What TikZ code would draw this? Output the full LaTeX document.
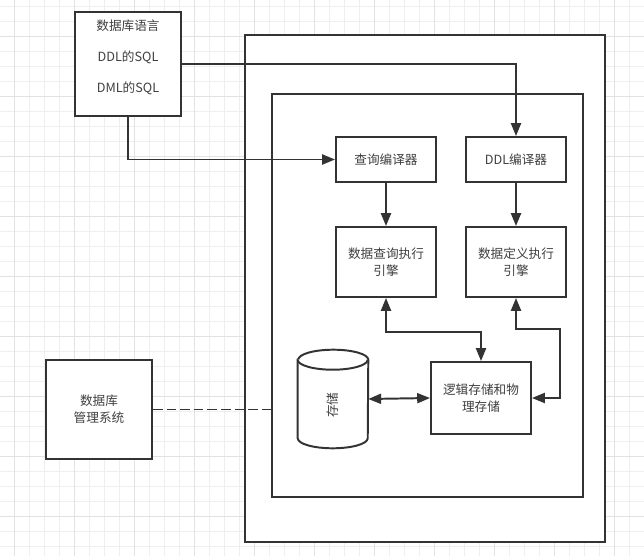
\documentclass[tikz,border=0pt]{standalone}
\usepackage{fontspec}
\setmainfont{Noto Sans CJK SC}
\usetikzlibrary{arrows.meta}
\definecolor{linegray}{HTML}{333333}
\definecolor{textgray}{HTML}{404040}
\definecolor{gridminor}{HTML}{EFEFEF}
\definecolor{gridmajor}{HTML}{E2E2E2}
\tikzset{
  box/.style={draw=linegray, line width=1.4pt, fill=white, text=textgray, align=center, font=\fontsize{9}{12}\selectfont, inner sep=0pt},
  boxtext/.style={text=textgray, align=center, font=\fontsize{9}{12}\selectfont, inner sep=0pt},
  flow/.style={draw=linegray, line width=1.4pt, -{Triangle[length=0.32cm,width=0.25cm]}},
  twoway/.style={draw=linegray, line width=1.4pt, {Triangle[length=0.32cm,width=0.25cm]}-{Triangle[length=0.32cm,width=0.25cm]}},
  linkdash/.style={draw=linegray, line width=1.4pt, dash pattern=on 0.24cm off 0.1cm},
  cyl/.style={draw=linegray, line width=1.4pt, fill=white}
}

\begin{document}
\begin{tikzpicture}[x=0.025cm, y=-0.025cm]
\useasboundingbox (0,0) rectangle (644,556);
\fill[white] (0,0) rectangle (644,556);
\foreach \gx in {14,29,...,644} \draw[gridminor, line width=0.7pt] (\gx,0) -- (\gx,556);
\foreach \gy in {6,21,...,556} \draw[gridminor, line width=0.7pt] (0,\gy) -- (644,\gy);
\foreach \gx in {14,74,...,644} \draw[gridmajor, line width=0.7pt] (\gx,0) -- (\gx,556);
\foreach \gy in {36,96,...,556} \draw[gridmajor, line width=0.7pt] (0,\gy) -- (644,\gy);

\node[box, minimum width=9cm, minimum height=12.675cm] (outer) at (425,288.5) {};
\node[box, minimum width=7.775cm, minimum height=10.075cm] (inner) at (427.5,295.5) {};

\node[box, minimum width=2.65cm, minimum height=2.6cm] (lang) at (128,64) {};
\node[boxtext] (langtext) at (128,57) {数据库语言\\[10pt]DDL的SQL\\[10pt]DML的SQL};

\node[box, minimum width=2.5cm, minimum height=1.125cm] (qcomp) at (386,159.5) {查询编译器};
\node[box, minimum width=2.5cm, minimum height=1.125cm] (ddlcomp) at (516,159.5) {DDL编译器};
\node[box, minimum width=2.5cm, minimum height=1.75cm] (qexec) at (386,262) {数据查询执行\\引擎};
\node[box, minimum width=2.5cm, minimum height=1.75cm] (dexec) at (516,262) {数据定义执行\\引擎};
\node[box, minimum width=2.5cm, minimum height=1.8cm] (logic) at (481,398) {逻辑存储和物\\理存储};
\node[box, minimum width=2.65cm, minimum height=2.475cm] (dbms) at (99,409.5) {数据库\\管理系统};

\node[minimum width=1.75cm, minimum height=2.45cm, inner sep=0pt] (store) at (333,399) {};
\draw[cyl] ([yshift=-0.25cm]store.north west) -- ([yshift=0.25cm]store.south west)
  arc[start angle=180, end angle=360, x radius=0.875cm, y radius=0.25cm]
  -- ([yshift=-0.25cm]store.north east)
  arc[start angle=0, end angle=180, x radius=0.875cm, y radius=0.25cm] -- cycle;
\draw[cyl] ([yshift=-0.25cm]store.north west)
  arc[start angle=180, end angle=360, x radius=0.875cm, y radius=0.25cm];
\node[boxtext, rotate=90] (storetext) at ([yshift=-0.15cm]store.center) {存储};

\draw[flow] (lang.east) -| (ddlcomp.north);
\draw[flow] (lang.south) |- (qcomp.west);
\draw[flow] (qcomp) -- (qexec);
\draw[flow] (ddlcomp) -- (dexec);
\draw[twoway] (qexec.south) -- ++(0,34) -| (logic.north);
\draw[twoway] (dexec.south) -- ++(0,31) -- ++(44,0) |- (logic.east);
\draw[twoway] (store.east) -- (logic.west);
\draw[linkdash] (dbms.east) -- (inner.west |- dbms.east);
\end{tikzpicture}
\end{document}
